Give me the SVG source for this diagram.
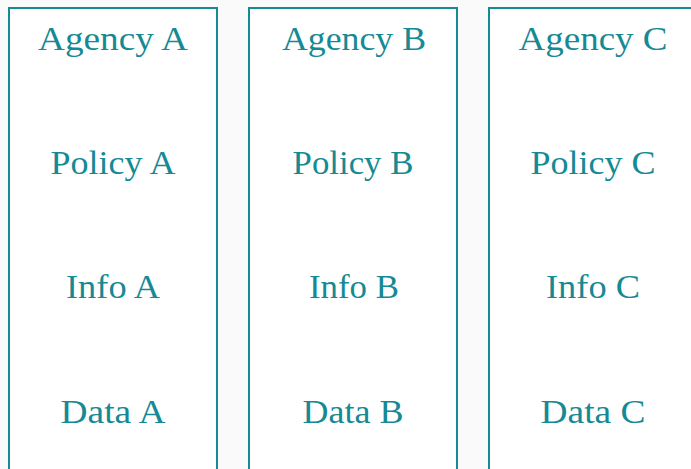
<svg xmlns="http://www.w3.org/2000/svg" width="691" height="469" viewBox="0 0 691 469">
<style>
.bg{fill:#fafafa}
.col{fill:#ffffff;stroke:#158b96;stroke-width:2}
.t{font-family:"Liberation Serif","Times New Roman",serif;font-size:34px;fill:#158a95;text-anchor:middle}
</style>
<rect class="bg" x="0" y="0" width="691" height="469"/>
<g id="agency-a">
<rect class="col" x="9" y="8" width="208" height="480"/>
<text class="t" x="113" y="50" textLength="150" lengthAdjust="spacingAndGlyphs">Agency A</text>
<text class="t" x="113" y="174" textLength="125" lengthAdjust="spacingAndGlyphs">Policy A</text>
<text class="t" x="113" y="298" textLength="94" lengthAdjust="spacingAndGlyphs">Info A</text>
<text class="t" x="113" y="423" textLength="105" lengthAdjust="spacingAndGlyphs">Data A</text>
</g>
<g id="agency-b">
<rect class="col" x="249" y="8" width="208" height="480"/>
<text class="t" x="354" y="50" textLength="144" lengthAdjust="spacingAndGlyphs">Agency B</text>
<text class="t" x="353" y="174" textLength="121" lengthAdjust="spacingAndGlyphs">Policy B</text>
<text class="t" x="354" y="298" textLength="90" lengthAdjust="spacingAndGlyphs">Info B</text>
<text class="t" x="353" y="423" textLength="101" lengthAdjust="spacingAndGlyphs">Data B</text>
</g>
<g id="agency-c">
<rect class="col" x="489" y="8" width="208" height="480"/>
<text class="t" x="593" y="50" textLength="149" lengthAdjust="spacingAndGlyphs">Agency C</text>
<text class="t" x="593" y="174" textLength="125" lengthAdjust="spacingAndGlyphs">Policy C</text>
<text class="t" x="593" y="298" textLength="94" lengthAdjust="spacingAndGlyphs">Info C</text>
<text class="t" x="593" y="423" textLength="105" lengthAdjust="spacingAndGlyphs">Data C</text>
</g>
<g id="connectors"/>
</svg>
